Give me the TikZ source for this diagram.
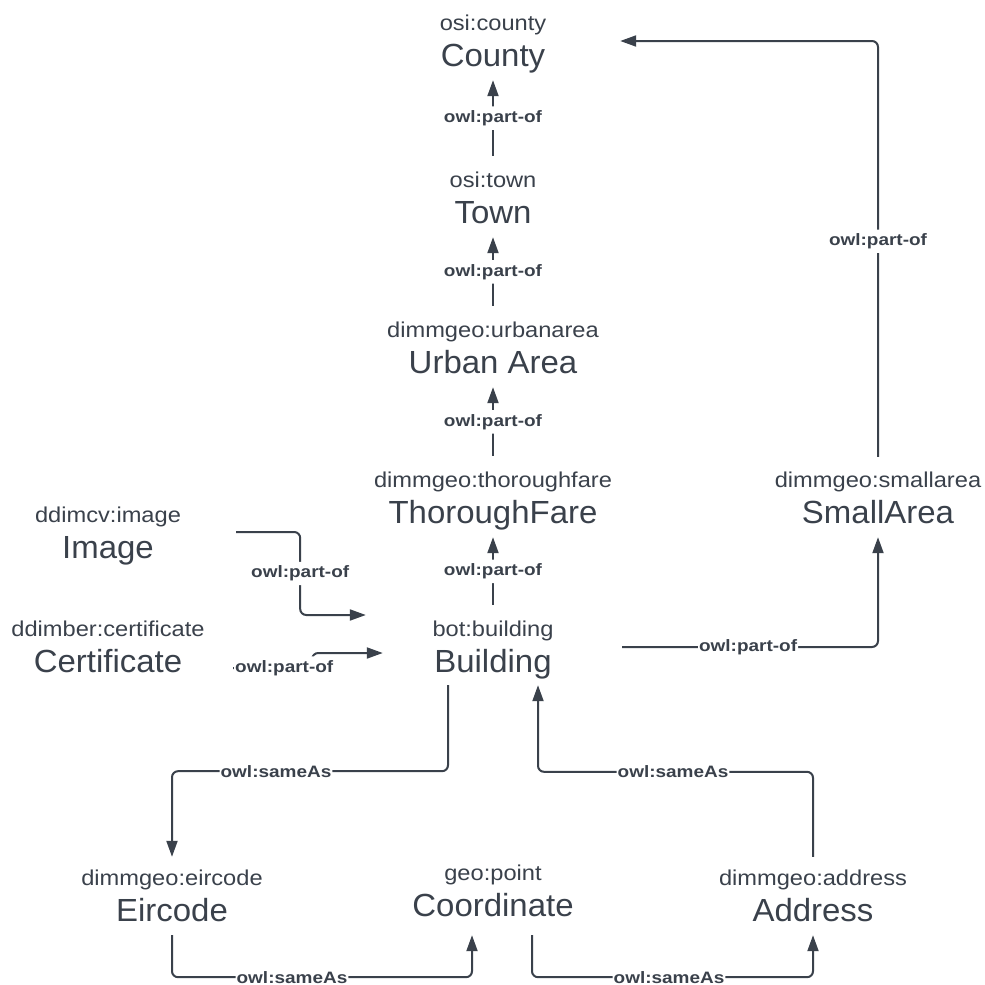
\documentclass[tikz,border=0pt]{standalone}
\usepackage{fontspec}
\setmainfont{Liberation Sans}
\newfontfamily\bigfont{Liberation Sans}[FakeStretch=1.03]
\newfontfamily\qnfont{Liberation Sans}[FakeStretch=1.1]
\newfontfamily\lblfont{Liberation Sans}[FakeStretch=1.15]
\usetikzlibrary{arrows.meta}
\definecolor{ink}{HTML}{3A414B}
\begin{document}
\begin{tikzpicture}[x=1pt,y=-1pt,
  big/.style={anchor=base, inner sep=0pt, text height=24pt, text depth=7pt, text=ink, font=\bigfont\fontsize{32}{36}\selectfont},
  qn/.style={anchor=base, inner sep=0pt, text height=16pt, text depth=5pt, text=ink, font=\qnfont\fontsize{21.5}{24}\selectfont},
  lbl/.style={fill=white, inner xsep=1pt, inner ysep=4pt, text=ink, font=\lblfont\bfseries\fontsize{16.5}{18}\selectfont},
  arr/.style={draw=ink, line width=2pt, rounded corners=6pt, -{Triangle[length=16pt,width=11pt]}},
  chain/.style={arr, shorten <=15pt, shorten >=7pt}
]
\fill[white] (0,0) rectangle (985,985);
\useasboundingbox (0,0) rectangle (985,985);

% classes
\node[qn]  (countyq)      at (493,30)  {osi:county};
\node[big] (county)       at (493,66)  {County};
\node[qn]  (townq)        at (493,187) {osi:town};
\node[big] (town)         at (493,223) {Town};
\node[qn]  (urbanq)       at (493,337) {dimmgeo:urbanarea};
\node[big] (urban)        at (493,373) {Urban Area};
\node[qn]  (thoroughq)    at (493,487) {dimmgeo:thoroughfare};
\node[big] (thorough)     at (493,523) {ThoroughFare};
\node[qn]  (buildingq)    at (493,636) {bot:building};
\node[big] (building)     at (493,672) {Building};
\node[qn]  (imageq)       at (108,522) {ddimcv:image};
\node[big] (image)        at (108,558) {Image};
\node[qn]  (certificateq) at (108,636) {ddimber:certificate};
\node[big] (certificate)  at (108,672) {Certificate};
\node[qn]  (smallareaq)   at (878,487) {dimmgeo:smallarea};
\node[big] (smallarea)    at (878,523) {SmallArea};
\node[qn]  (eircodeq)     at (172,885) {dimmgeo:eircode};
\node[big] (eircode)      at (172,921) {Eircode};
\node[qn]  (coordinateq)  at (493,880) {geo:point};
\node[big] (coordinate)   at (493,916) {Coordinate};
\node[qn]  (addressq)     at (813,885) {dimmgeo:address};
\node[big] (address)      at (813,921) {Address};

% vertical chain
\draw[chain] (townq.north) -- (county.south) node[lbl,pos=0.54] {owl:part-of};
\draw[chain] (urbanq.north) -- (town.south) node[lbl,pos=0.54] {owl:part-of};
\draw[chain] (thoroughq.north) -- (urban.south) node[lbl,pos=0.54] {owl:part-of};
\draw[chain] (buildingq.north) -- (thorough.south) node[lbl,pos=0.54] {owl:part-of};

% image -> building
\draw[arr] ([shift={(82.2,-17.5)}]image.east) -- ++(64,0)
  |- node[lbl,pos=0.25] {owl:part-of} ([shift={(-66.5,-15.5)}]buildingq.west);

% certificate -> building
\draw[arr] ([shift={(50.8,4.5)}]certificate.east) -- node[lbl,pos=0.646] {owl:part-of} ++(79,0)
  |- ([shift={(-51.4,-10.5)}]building.west);

% building -> smallarea
\draw[arr, shorten >=7pt] ([shift={(70.4,-16.5)}]building.east)
  -| node[lbl,pos=0.246] {owl:part-of} (smallarea.south);

% smallarea -> county
\draw[arr, shorten <=14pt] (smallareaq.north)
  |- node[lbl,pos=0.267] {owl:part-of} ([shift={(74.8,-16.5)}]county.east);

% building -> eircode
\draw[arr, shorten >=12pt] ([shift={(-45,6)}]building.south) -- ++(0,86)
  -| node[lbl,pos=0.3116] {owl:sameAs} (eircodeq.north);

% address -> building
\draw[arr, shorten <=12pt] (addressq.north) -- ++(0,-97)
  -| node[lbl,pos=0.2545] {owl:sameAs} ([shift={(45,6)}]building.south);

% eircode -> coordinate
\draw[arr, shorten <=7pt] (eircode.south) -- ++(0,49)
  -| node[lbl,pos=0.2] {owl:sameAs} ([shift={(-21,12)}]coordinate.south);

% coordinate -> address
\draw[arr, shorten >=7pt] ([shift={(39,12)}]coordinate.south) -- ++(0,42)
  -| node[lbl,pos=0.2438] {owl:sameAs} (address.south);
\end{tikzpicture}
\end{document}
